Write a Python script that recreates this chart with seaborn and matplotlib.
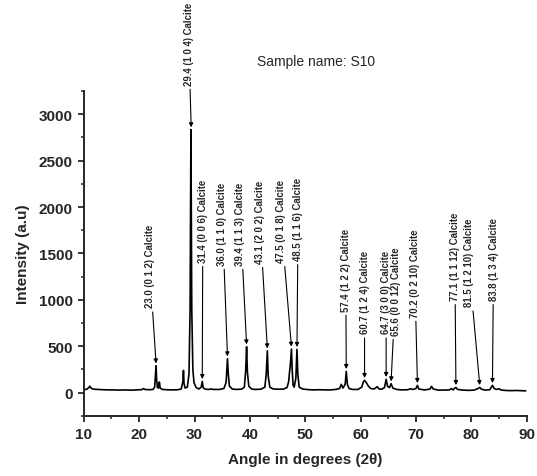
import numpy as np
import pandas as pd
import seaborn as sns
import matplotlib.pyplot as plt
from matplotlib.ticker import MultipleLocator

# XRD trace (2theta, intensity)
two_theta = [10.0, 10.5, 10.9, 11.1, 11.3, 11.7, 12.5, 13.5, 14.5, 15.5, 16.5, 17.5,
             18.5, 19.5, 20.5, 20.8, 21.0, 21.8, 22.5, 22.8, 22.95, 23.05, 23.15, 23.3,
             23.5, 23.65, 23.8, 24.2, 25.0, 26.0, 27.0, 27.6, 27.9, 28.0, 28.1, 28.3,
             28.7, 29.0, 29.2, 29.35, 29.5, 29.7, 29.9, 30.3, 30.8, 31.2, 31.4, 31.55,
             31.9, 32.5, 33.0, 33.5, 34.5, 35.3, 35.7, 35.95, 36.1, 36.3, 36.8, 37.5,
             38.5, 39.0, 39.25, 39.4, 39.55, 39.8, 40.3, 41.0, 42.0, 42.7, 42.95, 43.15,
             43.3, 43.6, 44.2, 45.0, 46.0, 46.7, 47.0, 47.1, 47.3, 47.5, 47.65, 47.8,
             48.0, 48.3, 48.5, 48.65, 48.9, 49.5, 50.5, 51.5, 52.5, 53.5, 54.5, 55.5,
             56.2, 56.5, 56.8, 57.2, 57.4, 57.6, 57.9, 58.5, 59.5, 60.2, 60.5, 60.7,
             61.0, 61.4, 61.8, 62.4, 62.8, 63.0, 63.3, 63.8, 64.3, 64.6, 64.85, 65.2,
             65.5, 65.8, 66.5, 67.5, 68.5, 69.0, 69.4, 70.0, 70.25, 70.5, 71.5, 72.5,
             72.8, 73.1, 74.0, 75.0, 76.0, 76.4, 76.7, 77.0, 77.2, 77.5, 78.5, 79.5,
             80.5, 81.2, 81.5, 81.8, 82.5, 83.3, 83.8, 84.1, 84.6, 85.0, 85.3, 86.0,
             87.0, 88.0, 89.0, 89.8]
intensity = [40, 35, 55, 70, 50, 38, 35, 32, 30, 30, 28, 30,
             27, 30, 33, 45, 35, 32, 35, 60, 200, 290, 150, 55,
             50, 115, 50, 35, 32, 30, 32, 40, 120, 240, 100, 50,
             60, 200, 900, 2834, 900, 250, 110, 55, 40, 60, 122, 55,
             38, 35, 40, 35, 35, 45, 110, 366, 200, 70, 40, 35,
             38, 60, 250, 495, 220, 70, 40, 35, 38, 60, 200, 452,
             180, 60, 40, 38, 38, 55, 120, 190, 300, 470, 230, 80,
             60, 160, 467, 200, 60, 40, 33, 30, 32, 30, 30, 35,
             45, 90, 50, 90, 230, 90, 45, 35, 35, 60, 120, 133,
             110, 70, 45, 40, 55, 65, 40, 38, 55, 144, 70, 55,
             97, 50, 35, 30, 32, 42, 35, 45, 79, 40, 30, 38,
             68, 40, 28, 28, 30, 45, 30, 50, 57, 35, 28, 25,
             28, 45, 57, 38, 28, 32, 79, 45, 35, 43, 30, 25,
             22, 24, 22, 20]

# peak labels: text, peak position, peak top, label x, label bottom y
labels = ["23.0 (0 1 2) Calcite", "29.4 (1 0 4) Calcite", "31.4 (0 0 6) Calcite",
          "36.0 (1 1 0) Calcite", "39.4 (1 1 3) Calcite", "43.1 (2 0 2) Calcite",
          "47.5 (0 1 8) Calcite", "48.5 (1 1 6) Calcite", "57.4 (1 2 2) Calcite",
          "60.7 (1 2 4) Calcite", "64.7 (3 0 0) Calcite", "65.6 (0 0 12) Calcite",
          "70.2 (0 2 10) Calcite", "77.1 (1 1 12) Calcite", "81.5 (1 2 10) Calcite",
          "83.8 (1 3 4) Calcite"]
peak_x = [23.05, 29.4, 31.4, 35.95, 39.4, 43.15, 47.5, 48.5, 57.4, 60.7, 64.6, 65.5,
          70.25, 77.2, 81.5, 83.8]
peak_y = [290, 2834, 122, 366, 495, 452, 470, 467, 230, 133, 144, 97, 79, 57, 57, 79]
label_x = [21.9, 28.95, 31.5, 35.05, 38.3, 41.8, 45.6, 48.7, 57.3, 60.7, 64.6, 66.3,
           69.75, 77.0, 79.5, 84.0]
label_y = [920, 3320, 1410, 1380, 1380, 1400, 1410, 1430, 885, 640, 640, 625,
           820, 1000, 930, 1000]

df = pd.DataFrame({"two_theta": two_theta, "intensity": intensity})

sns.set_style("ticks")
plt.rcParams["font.family"] = ["Liberation Sans", "DejaVu Sans"]

fig = plt.figure(figsize=(5.37, 4.77), dpi=100)
ax = fig.add_axes([0.156, 0.126, 0.825, 0.681])

sns.lineplot(data=df, x="two_theta", y="intensity", color="black", lw=1.2, ax=ax)

for txt, px, py, lx, ly in zip(labels, peak_x, peak_y, label_x, label_y):
    ax.annotate(txt, xy=(px, py + 25), xytext=(lx, ly), rotation=90,
                ha="center", va="bottom", fontsize=6.9, fontweight="bold",
                annotation_clip=False,
                arrowprops=dict(arrowstyle="-|>", color="black", lw=0.8,
                                mutation_scale=6, shrinkA=1, shrinkB=0))

ax.text(52, 3527, "Sample name: S10", ha="center", va="baseline", fontsize=10)

ax.set_xlim(10, 90)
ax.set_ylim(-250, 3250)
ax.xaxis.set_major_locator(MultipleLocator(10))
ax.xaxis.set_minor_locator(MultipleLocator(5))
ax.yaxis.set_major_locator(MultipleLocator(500))
ax.yaxis.set_minor_locator(MultipleLocator(250))
ax.tick_params(which="major", length=4.5, width=1.3, labelsize=11)
ax.tick_params(which="minor", length=2.5, width=1.1)
for lab in ax.get_xticklabels() + ax.get_yticklabels():
    lab.set_fontweight("bold")

for s in ["top", "right"]:
    ax.spines[s].set_visible(False)
for s in ["left", "bottom"]:
    ax.spines[s].set_linewidth(1.4)

ax.set_xlabel("Angle in degrees (2θ)", fontsize=11, fontweight="bold", labelpad=8)
ax.set_ylabel("Intensity (a.u)", fontsize=11, fontweight="bold", labelpad=6)

fig.savefig("out.png", dpi=100)
